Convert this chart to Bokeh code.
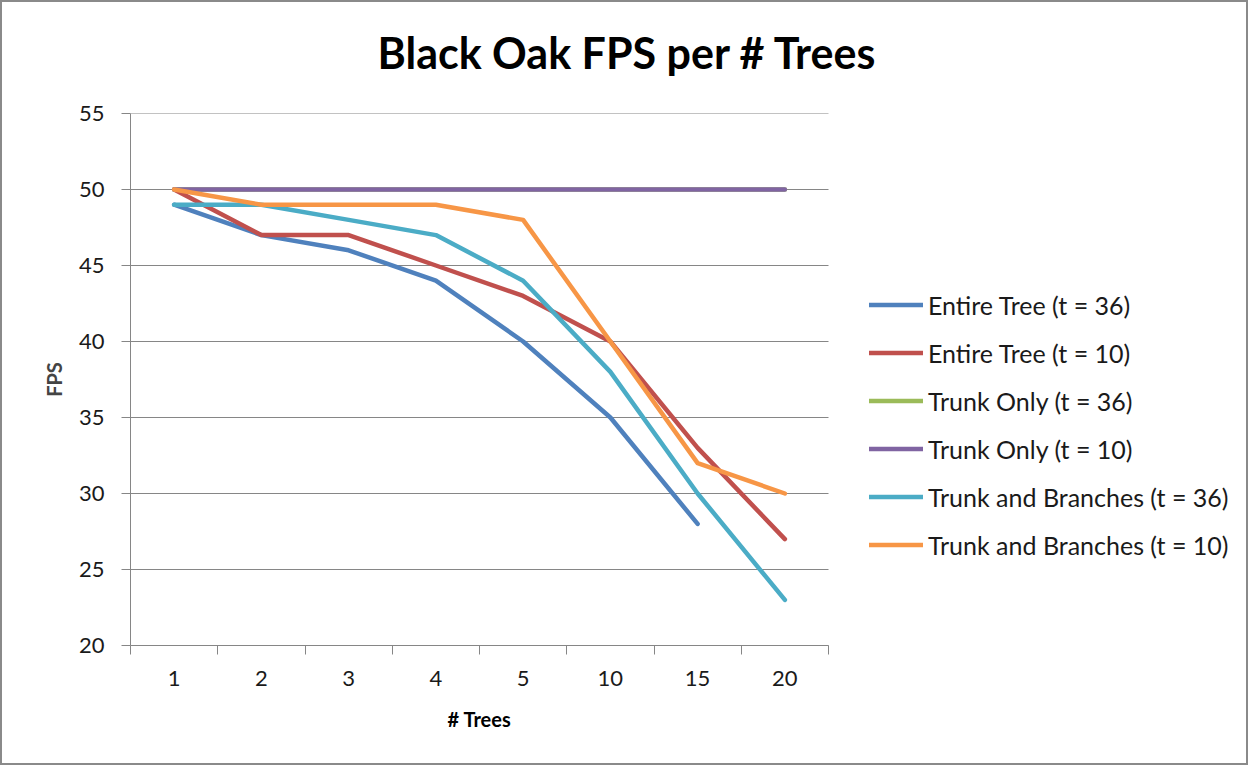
from bokeh.plotting import figure
from bokeh.models import (Range1d, LinearAxis, FixedTicker, Legend, LegendItem, Title)
from bokeh.embed import file_html
from bokeh.resources import INLINE

categories = ["1", "2", "3", "4", "5", "10", "15", "20"]
entire_tree_36 = [49, 47, 46, 44, 40, 35, 28]
entire_tree_10 = [50, 47, 47, 45, 43, 40, 33, 27]
trunk_only_36 = [50, 50, 50, 50, 50, 50, 50, 50]
trunk_only_10 = [50, 50, 50, 50, 50, 50, 50, 50]
trunk_branches_36 = [49, 49, 48, 47, 44, 38, 30, 23]
trunk_branches_10 = [50, 49, 49, 49, 48, 40, 32, 30]
series_names = ["Entire Tree (t = 36)", "Entire Tree (t = 10)", "Trunk Only (t = 36)",
                "Trunk Only (t = 10)", "Trunk and Branches (t = 36)", "Trunk and Branches (t = 10)"]
y_ticks = [20, 25, 30, 35, 40, 45, 50, 55]
x_title = "# Trees"
y_title = "FPS"
chart_title = "Black Oak FPS per # Trees"

FONT = "Lato"
GRID = "#868686"

xs = [i + 1 for i in range(len(categories))]
bounds = [i + 0.5 for i in range(len(categories) + 1)]
x_mid = (bounds[0] + bounds[-1]) / 2

# layout: plot area 698 px wide; the frame extends to the right edge so that
# the legend (inside the frame) is not clipped
W, H = 1248, 765
LEFT, RIGHT, TOP, BOTTOM = 128, 2, 111, 122
PLOT_W = 698
FRAME_W = W - LEFT - RIGHT
x_end = bounds[0] + len(categories) * FRAME_W / PLOT_W

p = figure(width=W, height=H, x_range=Range1d(bounds[0], x_end),
           y_range=Range1d(y_ticks[0], y_ticks[-1]), output_backend="svg",
           toolbar_location=None, x_axis_type=None,
           min_border_left=LEFT, min_border_right=RIGHT,
           min_border_top=TOP, min_border_bottom=BOTTOM)
p.styles = {"border": "2px solid #8a8a8a"}
p.outline_line_color = None
p.background_fill_color = "white"
p.border_fill_color = "white"
p.ygrid.grid_line_color = None

# horizontal gridlines limited to the plot area
p.segment(x0=[bounds[0]] * len(y_ticks), x1=[bounds[-1]] * len(y_ticks),
          y0=y_ticks, y1=y_ticks, line_color=GRID, line_width=1)

# y axis
ya = p.yaxis[0]
ya.ticker = FixedTicker(ticks=y_ticks)
ya.axis_line_color = GRID
ya.major_tick_line_color = GRID
ya.major_tick_in = 0
ya.major_tick_out = 9
ya.minor_tick_line_color = None
ya.major_label_text_font = FONT
ya.major_label_text_font_size = "22px"
ya.major_label_text_color = "#1a1a1a"
ya.major_label_standoff = 17
ya.axis_label = y_title
ya.axis_label_text_font = FONT
ya.axis_label_text_font_style = "bold"
ya.axis_label_text_font_size = "20px"
ya.axis_label_standoff = 10

# x axis: ticks at category boundaries
tick_axis = LinearAxis(ticker=FixedTicker(ticks=bounds), major_label_text_font_size="0px",
                       major_label_standoff=0, axis_line_color=GRID,
                       major_tick_line_color=GRID, major_tick_in=0, major_tick_out=9,
                       minor_tick_line_color=None, bounds=(bounds[0], bounds[-1]))
tick_axis.major_label_overrides = {b: "" for b in bounds}
p.add_layout(tick_axis, "below")

# category labels at category centres
label_axis = LinearAxis(ticker=FixedTicker(ticks=xs), axis_line_color=None,
                        major_tick_line_color=None, minor_tick_line_color=None,
                        major_label_text_font=FONT, major_label_text_font_size="22px",
                        major_label_text_color="#1a1a1a", major_label_standoff=10,
                        bounds=(bounds[0], bounds[-1]))
label_axis.major_label_overrides = {x: c for x, c in zip(xs, categories)}
p.add_layout(label_axis, "below")

# x-axis title centred under the plot area
title_axis = LinearAxis(ticker=FixedTicker(ticks=[x_mid]), axis_line_color=None,
                        major_tick_line_color=None, minor_tick_line_color=None,
                        major_label_text_font=FONT, major_label_text_font_size="20px",
                        major_label_text_font_style="bold",
                        major_label_text_color="black", major_label_standoff=12)
title_axis.major_label_overrides = {x_mid: x_title}
p.add_layout(title_axis, "below")

colors = ["#4F81BD", "#C0504D", "#9BBB59", "#8064A2", "#4BACC6", "#F79646"]
data = [entire_tree_36, entire_tree_10, trunk_only_36, trunk_only_10,
        trunk_branches_36, trunk_branches_10]
items = []
for name, ys, c in zip(series_names, data, colors):
    r = p.line(xs[:len(ys)], ys, line_color=c, line_width=4.5,
               line_cap="round", line_join="round")
    items.append(LegendItem(label=name, renderers=[r]))

legend = Legend(items=items, location=(739, 85), padding=0, margin=0,
                border_line_color=None, background_fill_alpha=0,
                glyph_width=54, glyph_height=31, label_height=31,
                label_standoff=5, spacing=17,
                label_text_font=FONT, label_text_font_size="25px",
                label_text_color="#1a1a1a")
p.add_layout(legend, "center")

# spacer between frame and title, then the title itself
p.add_layout(Title(text=" ", text_font_size="20px", standoff=12), "above")
p.add_layout(Title(text=chart_title, align="left", offset=247,
                   text_font=FONT, text_font_style="bold", text_font_size="43px",
                   text_color="black", standoff=0), "above")

open("out.html", "w").write(file_html(p, INLINE))
